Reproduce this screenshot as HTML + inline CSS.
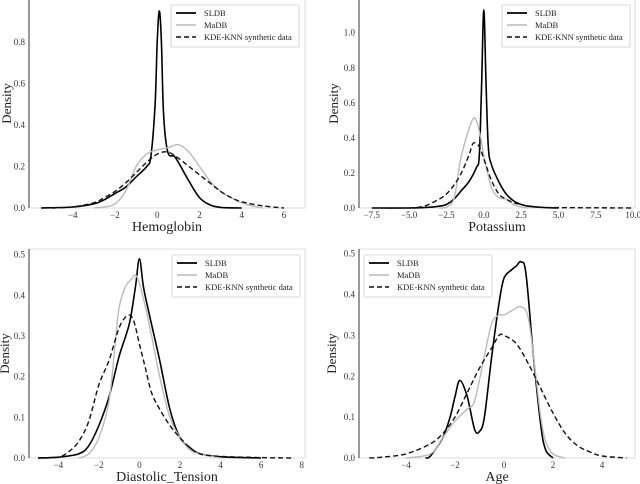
<!DOCTYPE html>
<html><head><meta charset="utf-8"><style>
body{margin:0;background:#fff;width:640px;height:484px;overflow:hidden}
svg{display:block;font-family:"Liberation Serif",serif}
</style></head><body>
<svg id="c" width="640" height="484"></svg>
<script>
// ---- data ----
const hemoTicksX=[-4,-2,0,2,4,6];
const hemoTicksY=[0,0.2,0.4,0.6,0.8];
const hemoSldbX=[-5.5,-4,-3,-2.5,-2,-1.5,-1,-0.5,-0.3,-0.1,0,0.1,0.2,0.3,0.5,0.8,1,1.5,2,2.5,3,4];
const hemoSldbY=[0,0.005,0.02,0.04,0.07,0.1,0.15,0.2,0.25,0.5,0.8,0.95,0.8,0.45,0.27,0.25,0.22,0.13,0.05,0.015,0.003,0];
const hemoMadbX=[-3,-2.5,-2,-1.5,-1,-0.5,0,0.5,1,1.5,2,2.5,3,3.5,4,4.5,5];
const hemoMadbY=[0,0.005,0.02,0.08,0.2,0.26,0.28,0.29,0.305,0.27,0.2,0.13,0.08,0.05,0.025,0.01,0];
const hemoKdeX=[-5,-4,-3,-2.5,-2,-1.5,-1,-0.5,0,0.5,1,1.5,2,2.5,3,3.5,4,5,6];
const hemoKdeY=[0,0.005,0.025,0.05,0.08,0.12,0.17,0.22,0.26,0.27,0.24,0.2,0.16,0.12,0.08,0.05,0.03,0.01,0];

const potTicksX=[-7.5,-5,-2.5,0,2.5,5,7.5,10];
const potTicksY=[0,0.2,0.4,0.6,0.8,1.0];
const potSldbX=[-7.5,-5,-4,-3,-2.5,-2,-1.5,-1,-0.5,-0.3,-0.15,0,0.15,0.3,0.5,1,1.5,2,2.5,3,4,5];
const potSldbY=[0,0,0.002,0.01,0.02,0.05,0.1,0.15,0.23,0.3,0.7,1.13,0.7,0.35,0.25,0.15,0.08,0.04,0.02,0.01,0.003,0];
const potMadbX=[-3,-2.5,-2,-1.7,-1.5,-1,-0.7,-0.5,-0.2,0,0.5,1,1.5,2,2.5,3];
const potMadbY=[0,0.005,0.05,0.2,0.3,0.45,0.51,0.5,0.4,0.3,0.12,0.06,0.05,0.02,0.005,0];
const potKdeX=[-5,-4,-3,-2.5,-2,-1.5,-1,-0.7,-0.3,0,0.5,1,1.5,2,2.5,3,4,5,7.5,10];
const potKdeY=[0,0.01,0.05,0.08,0.13,0.2,0.3,0.37,0.35,0.28,0.16,0.08,0.05,0.03,0.02,0.01,0.004,0.002,0.001,0];

const diaTicksX=[-4,-2,0,2,4,6,8];
const diaTicksY=[0,0.1,0.2,0.3,0.4,0.5];
const diaSldbX=[-5,-4,-3,-2.5,-2,-1.5,-1,-0.5,-0.2,0,0.2,0.5,1,1.5,2,2.5,3,4,6];
const diaSldbY=[0,0.002,0.01,0.03,0.08,0.15,0.25,0.33,0.42,0.49,0.42,0.35,0.24,0.12,0.05,0.025,0.01,0.003,0];
const diaMadbX=[-3,-2.5,-2,-1.5,-1.2,-1,-0.7,-0.4,-0.2,0,0.3,0.6,1,1.5,2,2.5,3,4];
const diaMadbY=[0,0.01,0.05,0.14,0.28,0.37,0.42,0.44,0.45,0.43,0.37,0.3,0.2,0.1,0.05,0.02,0.01,0];
const diaKdeX=[-5,-4,-3.5,-3,-2.5,-2,-1.5,-1,-0.6,-0.3,0,0.3,0.6,1,1.5,2,2.5,3,4,6,7.5];
const diaKdeY=[0,0.002,0.015,0.04,0.09,0.18,0.24,0.32,0.35,0.34,0.28,0.22,0.16,0.12,0.08,0.05,0.025,0.01,0.004,0.001,0];

const ageTicksX=[-4,-2,0,2,4];
const ageTicksY=[0,0.1,0.2,0.3,0.4,0.5];
const ageSldbX=[-3.2,-3,-2.5,-2.2,-2,-1.8,-1.5,-1.2,-1,-0.8,-0.5,-0.2,0,0.3,0.5,0.7,0.9,1.2,1.5,1.7,2];
const ageSldbY=[0,0.005,0.05,0.1,0.15,0.19,0.15,0.07,0.065,0.1,0.25,0.38,0.44,0.46,0.47,0.48,0.45,0.25,0.08,0.02,0];
const ageMadbX=[-4,-3,-2.5,-2,-1.5,-1.2,-0.8,-0.5,-0.2,0,0.3,0.7,1,1.3,1.5,1.7,2,2.5];
const ageMadbY=[0,0.01,0.05,0.09,0.12,0.14,0.25,0.33,0.35,0.35,0.36,0.37,0.34,0.2,0.1,0.04,0.01,0];
const ageKdeX=[-5.5,-5,-4,-3,-2.5,-2,-1.5,-1,-0.5,-0.2,0,0.5,1,1.5,2,2.5,3,3.5,4,5];
const ageKdeY=[0,0.002,0.01,0.035,0.06,0.1,0.16,0.22,0.27,0.3,0.3,0.28,0.23,0.17,0.11,0.06,0.03,0.015,0.005,0];
const legendLabels=["SLDB","MaDB","KDE-KNN synthetic data"];

// ---- drawing ----
const NS="http://www.w3.org/2000/svg";
const svg=document.getElementById('c');
function mk(tag,attrs,parent){const e=document.createElementNS(NS,tag);for(const k in attrs)e.setAttribute(k,attrs[k]);(parent||svg).appendChild(e);return e;}
function smooth(pts){let d="M"+pts[0][0].toFixed(1)+","+pts[0][1].toFixed(1);
 for(let i=0;i<pts.length-1;i++){const p0=pts[Math.max(0,i-1)],p1=pts[i],p2=pts[i+1],p3=pts[Math.min(pts.length-1,i+2)];
  const c1=[p1[0]+(p2[0]-p0[0])/6,p1[1]+(p2[1]-p0[1])/6],c2=[p2[0]-(p3[0]-p1[0])/6,p2[1]-(p3[1]-p1[1])/6];
  d+="C"+c1.join(",")+" "+c2.join(",")+" "+p2[0].toFixed(1)+","+p2[1].toFixed(1);}return d;}
function fmt(v,dec){return v.toFixed(dec).replace('-','\u2212');}

function panel(o){
 const g=mk('g',{});
 
 
 const sx=v=>o.x0px+(v-o.x0)*(o.x1px-o.x0px)/(o.x1-o.x0);
 const sy=v=>o.y0px+(v-o.y0)*(o.y1px-o.y0px)/(o.y1-o.y0);
 const fr=mk('rect',{x:o.L,y:o.T,width:o.R-o.L,height:o.B-o.T,fill:'none',stroke:'#ddd','stroke-width':1},g);
 
 const ls=mk('line',{x1:o.L,x2:o.L,y1:o.T,y2:o.B,stroke:'#333','stroke-width':1},g);
 
 o.tx.forEach(v=>{const x=sx(v);
  const t=mk('text',{x:x,y:o.B+10,'font-size':9,'text-anchor':'middle',fill:'#333'},g);t.textContent=fmt(v,o.xdec);
  });
 o.ty.forEach(v=>{const y=sy(v);
  const t=mk('text',{x:o.L-4,y:y+3,'font-size':9,'text-anchor':'end',fill:'#333'},g);t.textContent=fmt(v,1);
  });
 const xl=mk('text',{x:(o.L+o.R)/2,y:o.B+23,'font-size':14,'text-anchor':'middle',fill:'#222'},g);xl.textContent=o.xlabel;
 
 const yl=mk('text',{x:0,y:0,'font-size':13,'text-anchor':'middle',fill:'#222',transform:`translate(${o.ylx},${(o.T+o.B)/2}) rotate(-90)`},g);yl.textContent='Density';
 
 const styles=[{stroke:'#000',w:1.6,dash:''},{stroke:'#bbb',w:1.4,dash:''},{stroke:'#111',w:1.4,dash:'5,3'}];
 o.series.forEach((s,i)=>{const pts=s[0].map((x,j)=>[sx(x),sy(s[1][j])]);
  const p=mk('path',{d:smooth(pts),fill:'none',stroke:styles[i].stroke,'stroke-width':styles[i].w,'stroke-dasharray':styles[i].dash},g);
  });
 const lg=mk('g',{},g);
 mk('rect',{x:o.lx,y:o.ly,width:128,height:42,fill:'#fff',stroke:'#ccc','stroke-width':0.8,rx:1},lg);
 legendLabels.forEach((lab,i)=>{const y=o.ly+8+i*12;
  mk('line',{x1:o.lx+5,x2:o.lx+25,y1:y,y2:y,stroke:styles[i].stroke,'stroke-width':styles[i].w+0.2,'stroke-dasharray':styles[i].dash},lg);
  const t=mk('text',{x:o.lx+33,y:y+3,'font-size':8.5,fill:'#222'},lg);t.textContent=lab;
  });
}
panel({name:'hemoglobin',L:29,R:305,T:-1,B:208,x0:-4,x1:6,x0px:72.7,x1px:284,y0:0,y1:0.8,y0px:208,y1px:42,
 tx:hemoTicksX,ty:hemoTicksY,xdec:0,xlabel:'Hemoglobin',ylx:11,lx:171,ly:5,
 series:[[hemoSldbX,hemoSldbY],[hemoMadbX,hemoMadbY],[hemoKdeX,hemoKdeY]]});
panel({name:'potassium',L:359,R:635,T:-1,B:208,x0:-7.5,x1:10,x0px:371.7,x1px:633.3,y0:0,y1:1.0,y0px:208,y1px:32.7,
 tx:potTicksX,ty:potTicksY,xdec:1,xlabel:'Potassium',ylx:338,lx:502,ly:5,
 series:[[potSldbX,potSldbY],[potMadbX,potMadbY],[potKdeX,potKdeY]]});
panel({name:'diastolic',L:29,R:305,T:249,B:458,x0:-4,x1:8,x0px:58.3,x1px:301.7,y0:0,y1:0.5,y0px:458,y1px:254.7,
 tx:diaTicksX,ty:diaTicksY,xdec:0,xlabel:'Diastolic_Tension',ylx:9,lx:172,ly:255,
 series:[[diaSldbX,diaSldbY],[diaMadbX,diaMadbY],[diaKdeX,diaKdeY]]});
panel({name:'age',L:359,R:635,T:249,B:458,x0:-4,x1:4,x0px:406,x1px:602,y0:0,y1:0.5,y0px:458,y1px:253.7,
 tx:ageTicksX,ty:ageTicksY,xdec:0,xlabel:'Age',ylx:336,lx:364,ly:255,
 series:[[ageSldbX,ageSldbY],[ageMadbX,ageMadbY],[ageKdeX,ageKdeY]]});
</script>
</body></html>
